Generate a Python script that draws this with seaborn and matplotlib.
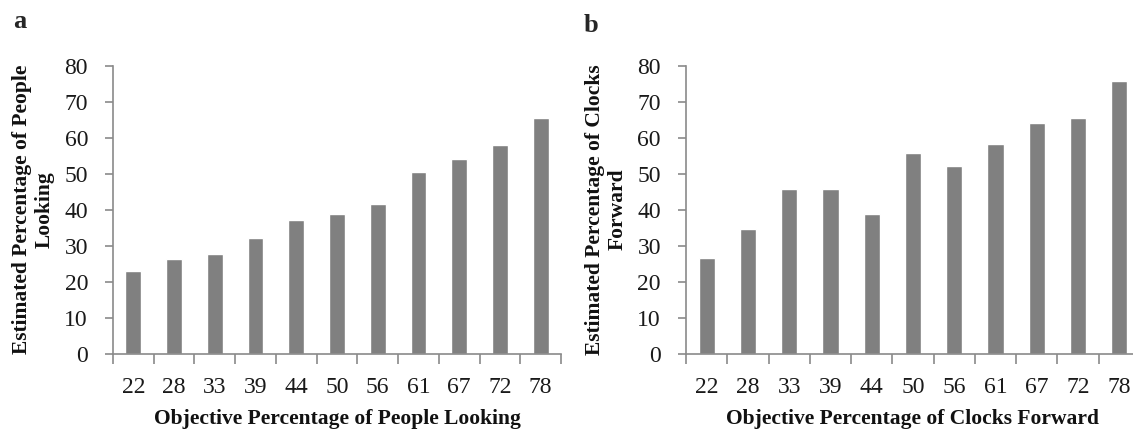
import matplotlib
matplotlib.use("Agg")
import matplotlib.pyplot as plt
import pandas as pd
import seaborn as sns

categories = ["22", "28", "33", "39", "44", "50", "56", "61", "67", "72", "78"]
people_looking = [23.0, 26.3, 27.6, 32.0, 37.0, 38.8, 41.4, 50.3, 53.9, 57.9, 65.5]
clocks_forward = [26.6, 34.7, 45.8, 45.8, 38.8, 55.6, 52.0, 58.3, 64.1, 65.4, 75.7]

sns.set_theme(style="ticks")
plt.rcParams["font.family"] = ["Liberation Serif", "DejaVu Serif"]

BAR = "#808080"
AXIS = "#8a8a8a"
W, H = 1133, 432

fig = plt.figure(figsize=(W / 100, H / 100), dpi=100)
# panel b runs a little past the right edge of the picture, as in the source
ax_a = fig.add_axes([113 / W, 1 - 353.5 / H, 448 / W, 288 / H])
ax_b = fig.add_axes([686 / W, 1 - 353.5 / H, 454 / W, 288 / H])

panels = [
    (ax_a, people_looking, "Objective Percentage of People Looking",
     "Estimated Percentage of People\nLooking"),
    (ax_b, clocks_forward, "Objective Percentage of Clocks Forward",
     "Estimated Percentage of Clocks\nForward"),
]

n = len(categories)
for ax, values, xlabel, ylabel in panels:
    df = pd.DataFrame({"cat": categories, "val": values})
    sns.barplot(data=df, x="cat", y="val", color=BAR, saturation=1,
                width=0.39, ax=ax)
    ax.set_xlim(-0.5, n - 0.5)
    ax.set_ylim(0, 80)
    ax.set_yticks(range(0, 81, 10))
    # tick marks sit between the categories, labels under the bars
    ax.set_xticks([i - 0.5 for i in range(n + 1)])
    ax.set_xticklabels([""] * (n + 1))
    ax.set_xticks(range(n), minor=True)
    ax.set_xticklabels(categories, minor=True)
    ax.tick_params(axis="x", which="major", bottom=True, length=7, width=1.2,
                   color=AXIS, direction="out")
    ax.tick_params(axis="x", which="minor", bottom=True, length=0, pad=17,
                   labelsize=17, labelcolor="#1a1a1a")
    ax.tick_params(axis="y", left=True, length=6, width=1.2, color=AXIS,
                   direction="out", labelsize=17, pad=12, labelcolor="#1a1a1a")
    sns.despine(ax=ax)
    for s in ("left", "bottom"):
        ax.spines[s].set_color(AXIS)
        ax.spines[s].set_linewidth(1.2)
    ax.set_xlabel(xlabel, fontsize=15.5, fontweight="bold", labelpad=8,
                  color="#111111")
    ax.set_ylabel(ylabel, fontsize=15.5, fontweight="bold", labelpad=7,
                  color="#111111")

fig.text(13 / W, 1 - 21 / H, "a", fontsize=19, fontweight="bold", va="center")
fig.text(584 / W, 1 - 25 / H, "b", fontsize=19, fontweight="bold", va="center")

fig.savefig("out.png", dpi=100)
